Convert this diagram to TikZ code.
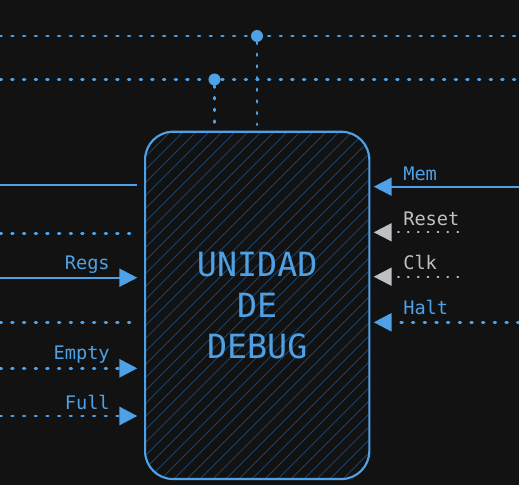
\documentclass[tikz,border=0pt]{standalone}
\usepackage{fontspec}
\setmonofont{DejaVu Sans Mono}
\usetikzlibrary{arrows.meta,calc}
\definecolor{bg}{HTML}{121212}
\definecolor{blu}{HTML}{4EA1E6}
\definecolor{gry}{HTML}{BEC0C3}
\definecolor{hat}{HTML}{1C4468}
\begin{document}
\begin{tikzpicture}[x=0.75pt,y=-0.75pt,
  solidln/.style={blu,line width=1.6pt},
  dotln/.style={blu,line width=2.2pt,line cap=round,dash pattern=on 1.2pt off 7.55pt},
  gdot/.style={gry,line width=1.6pt,line cap=round,dash pattern=on 0.5pt off 6.9pt},
  tipb/.style={-{Triangle[length=13.5pt,width=13.5pt]}},
  lbl/.style={font=\ttfamily\fontsize{14}{16}\selectfont,inner sep=0pt,text=blu},
  glbl/.style={lbl,text=gry},
  jdot/.style={circle,fill=blu,minimum size=9pt,inner sep=0pt},
  hatchln/.style={hat,line width=0.6pt},
  dbgbox/.style={draw=blu,line width=1.6pt,rounded corners=21pt,
    minimum width=168.2pt,minimum height=260.5pt,align=center,text=blu,
    font=\ttfamily\fontsize{25}{30.75}\selectfont}
]
\fill[bg] (0,0) rectangle (519,485);
\useasboundingbox (0,0) rectangle (519,485);

% hatching inside the box
\begin{scope}
  \clip[rounded corners=21pt] (145,131.7) rectangle (369.3,479);
  \foreach \k in {-30,...,20} \draw[hatchln] (145+\k*13,482) -- ++(360,-360);
\end{scope}

\node[dbgbox] (dbg) at (257.2,305.4) {UNIDAD\\DE\\DEBUG};

% top buses
\coordinate (t1a) at (0,36);
\coordinate (t1b) at (519,36);
\coordinate (t2a) at (0,79.5);
\coordinate (t2b) at (519,79.5);
\draw[dotln] (t1a) -- (t1b);
\draw[dotln] (t2a) -- (t2b);
\node[jdot] (j1) at (257,36) {};
\node[jdot] (j2) at (214.5,79.5) {};
\draw[dotln,shorten >=4.5pt] (j1) -- (dbg.north -| j1);
\draw[dotln,shorten >=4.5pt] (j2) -- (dbg.north -| j2);

% left side
\coordinate (a1) at (0,185.3);
\coordinate (a2) at (0,233.3);
\coordinate (a3) at (0,277.7);
\coordinate (a4) at (0,322.7);
\coordinate (a5) at (0,368.3);
\coordinate (a6) at (0,416);
\draw[solidln,shorten >=4.9pt] (a1) -- (dbg.west |- a1);
\draw[dotln,shorten >=8pt] (a2) -- (dbg.west |- a2);
\draw[solidln,tipb,shorten >=5pt] (a3) -- (dbg.west |- a3);
\draw[dotln,shorten >=8.5pt] (a4) -- (dbg.west |- a4);
\draw[dotln,tipb,shorten >=5pt] (a5) -- (dbg.west |- a5);
\draw[dotln,tipb,shorten >=5pt] (a6) -- (dbg.west |- a6);
\node[lbl,anchor=base east] (lregs) at (110,270) {Regs};
\node[lbl,anchor=base east] (lempty) at (110,360) {Empty};
\node[lbl,anchor=base east] (lfull) at (110,409.3) {Full};

% right side
\coordinate (b1) at (519,186.7);
\coordinate (b2) at (458,232.3);
\coordinate (b3) at (458,276.7);
\coordinate (b4) at (519,322.3);
\draw[solidln,tipb,shorten >=2.5pt] (b1) -- (dbg.east |- b1);
\draw[gdot,tipb,shorten >=2.5pt] (b2) -- (dbg.east |- b2);
\draw[gdot,tipb,shorten >=2.5pt] (b3) -- (dbg.east |- b3);
\draw[dotln,tipb,shorten >=2.5pt] (b4) -- (dbg.east |- b4);
\node[lbl,anchor=base west] (lmem) at (403,180.7) {Mem};
\node[glbl,anchor=base west] (lreset) at (403,225.7) {Reset};
\node[glbl,anchor=base west] (lclk) at (403,270) {Clk};
\node[lbl,anchor=base west] (lhalt) at (403,315) {Halt};
\end{tikzpicture}
\end{document}
